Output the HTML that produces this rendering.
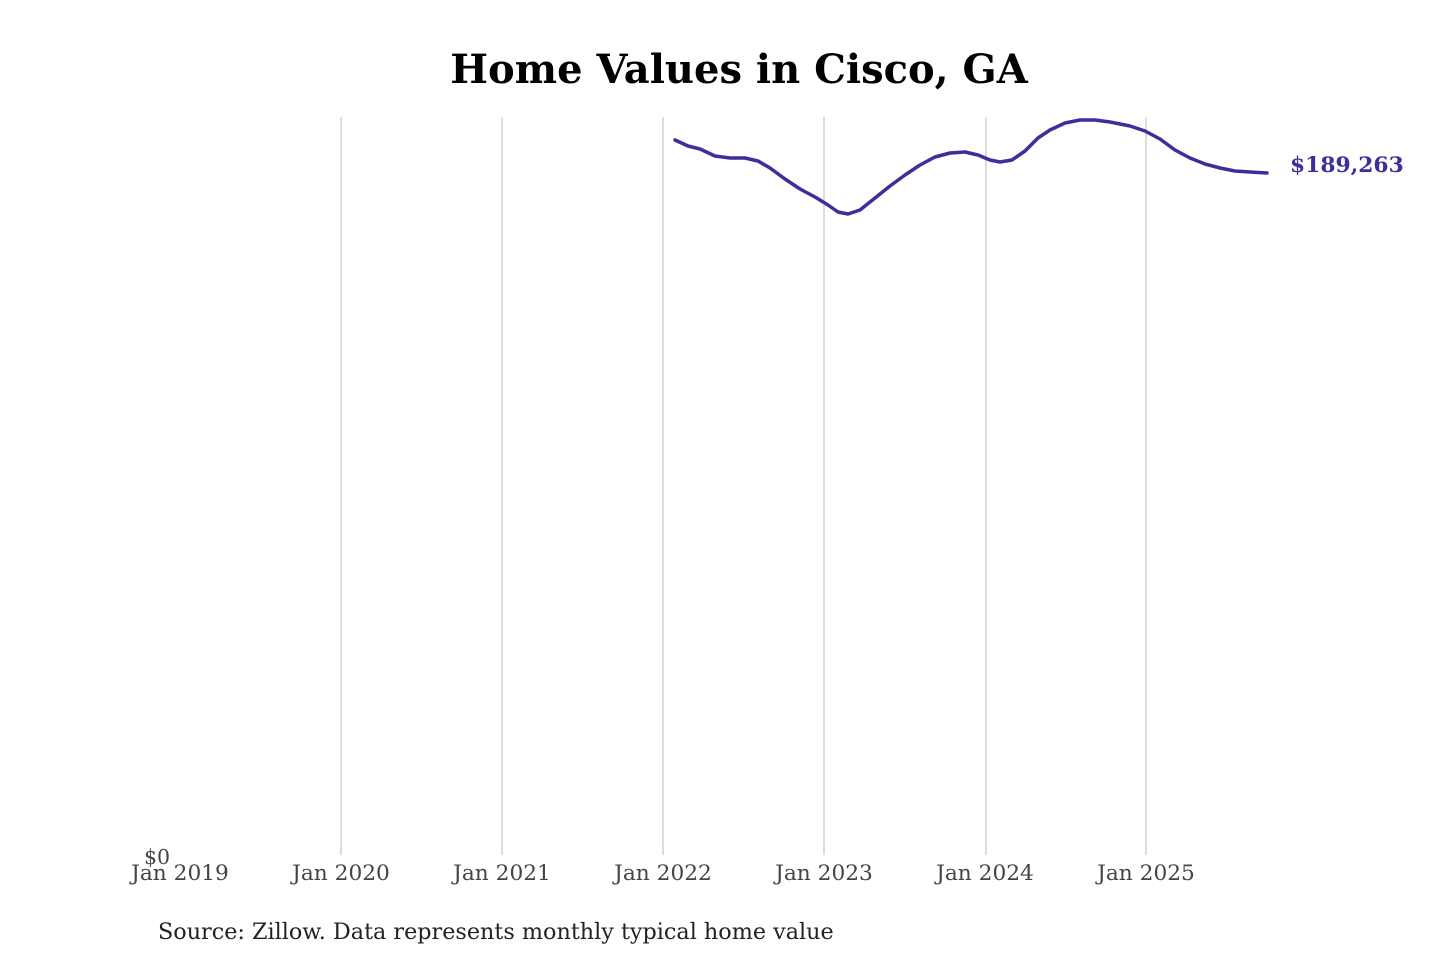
<!DOCTYPE html>
<html><head><meta charset="utf-8"><style>
html,body{margin:0;padding:0;background:#fff;width:1440px;height:960px;overflow:hidden}
</style></head><body>
<svg width="1440" height="960" xmlns="http://www.w3.org/2000/svg" font-family="'DejaVu Serif','Liberation Serif',serif">
<text x="739" y="83" text-anchor="middle" font-size="40" font-weight="bold" fill="#000">Home Values in Cisco, GA</text>
<g stroke="#c4c4c4" stroke-width="1.2">
<line x1="341" y1="117" x2="341" y2="855"/>
<line x1="502" y1="117" x2="502" y2="855"/>
<line x1="663" y1="117" x2="663" y2="855"/>
<line x1="824" y1="117" x2="824" y2="855"/>
<line x1="986" y1="117" x2="986" y2="855"/>
<line x1="1146" y1="117" x2="1146" y2="855"/>
</g>
<g font-size="21.7" fill="#444" text-anchor="middle">
<text x="180" y="880">Jan 2019</text>
<text x="341" y="880">Jan 2020</text>
<text x="502" y="880">Jan 2021</text>
<text x="663" y="880">Jan 2022</text>
<text x="824" y="880">Jan 2023</text>
<text x="985" y="880">Jan 2024</text>
<text x="1146" y="880">Jan 2025</text>
</g>
<text x="157" y="864" font-size="20.5" fill="#444" text-anchor="middle">$0</text>
<polyline fill="none" stroke="#3a2f9c" stroke-width="3.5" stroke-linejoin="round" stroke-linecap="round" points="675,140 688,146 700,149 715,156 730,158 745,158 758,161 770,168 785,179 800,189 815,197 828,205 838,212 848,214 860,210 875,198 890,186 905,175 920,165 935,157 950,153 965,152 978,155 990,160 1000,162 1012,160 1025,151 1038,138 1050,130 1065,123 1080,120 1095,120 1110,122 1130,126 1145,131 1160,139 1175,150 1190,158 1205,164 1220,168 1235,171 1250,172 1267,173"/>
<text x="1290" y="172" font-size="21.8" font-weight="bold" fill="#3a2f9c">$189,263</text>
<text x="158" y="939" font-size="22.3" fill="#222">Source: Zillow. Data represents monthly typical home value</text>
</svg>
</body></html>
